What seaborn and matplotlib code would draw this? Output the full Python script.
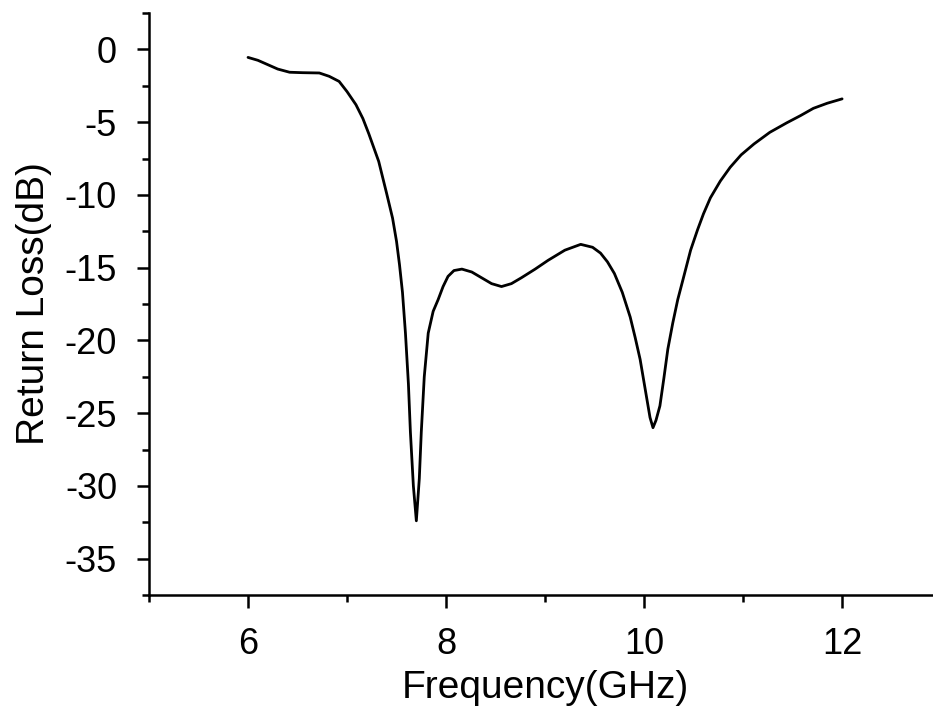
import numpy as np
import pandas as pd
import matplotlib
matplotlib.use("Agg")
import matplotlib.pyplot as plt
import seaborn as sns
from matplotlib.ticker import MultipleLocator

# Return loss curve
freq_ghz = [6.00, 6.10, 6.20, 6.30, 6.42, 6.55, 6.72, 6.82, 6.92, 7.00,
            7.09, 7.16, 7.22, 7.32, 7.40, 7.46, 7.50, 7.53, 7.56, 7.59,
            7.62, 7.64, 7.67, 7.70, 7.73, 7.75, 7.78, 7.82, 7.87, 7.92,
            7.97, 8.02, 8.08, 8.16, 8.26, 8.36, 8.46, 8.56, 8.66, 8.76,
            8.90, 9.03, 9.20, 9.36, 9.48, 9.56, 9.63, 9.70, 9.78, 9.86,
            9.91, 9.96, 10.03, 10.06, 10.09, 10.12, 10.16, 10.20, 10.24, 10.29,
            10.34, 10.39, 10.47, 10.54, 10.60, 10.67, 10.77, 10.87, 10.98, 11.11,
            11.27, 11.44, 11.58, 11.71, 11.85, 12.00]
return_loss_db = [-0.55, -0.75, -1.05, -1.35, -1.57, -1.60, -1.62, -1.85, -2.20, -2.90,
                  -3.80, -4.75, -5.80, -7.70, -9.90, -11.6, -13.2, -14.8, -16.7, -19.5,
                  -23.0, -26.3, -30.0, -32.4, -29.5, -26.3, -22.5, -19.5, -18.0, -17.2,
                  -16.3, -15.6, -15.2, -15.1, -15.3, -15.7, -16.1, -16.3, -16.1, -15.7,
                  -15.1, -14.5, -13.8, -13.4, -13.6, -14.0, -14.6, -15.4, -16.7, -18.4,
                  -19.8, -21.3, -24.1, -25.3, -26.0, -25.5, -24.5, -22.6, -20.6, -18.8,
                  -17.2, -15.9, -13.8, -12.4, -11.3, -10.2, -9.05, -8.10, -7.25, -6.50,
                  -5.70, -5.05, -4.55, -4.05, -3.70, -3.40]

df = pd.DataFrame({"Frequency": freq_ghz, "ReturnLoss": return_loss_db})

sns.set_style("ticks")
plt.rcParams['font.family'] = ['Liberation Sans', 'DejaVu Sans']
plt.rcParams['axes.unicode_minus'] = False
plt.rcParams['text.color'] = 'black'
plt.rcParams['axes.labelcolor'] = 'black'
plt.rcParams['xtick.color'] = 'black'
plt.rcParams['ytick.color'] = 'black'

fig = plt.figure(figsize=(9.33, 7.16), dpi=100)
ax = fig.add_axes([0.1597, 0.169, 0.849, 0.8128])

sns.lineplot(data=df, x="Frequency", y="ReturnLoss", ax=ax,
             color="black", linewidth=2.0, sort=False)

ax.set_xlim(5, 13)
ax.set_ylim(-37.5, 2.5)
ax.xaxis.set_major_locator(MultipleLocator(2))
ax.xaxis.set_minor_locator(MultipleLocator(1))
ax.yaxis.set_major_locator(MultipleLocator(5))
ax.yaxis.set_minor_locator(MultipleLocator(2.5))

sns.despine(ax=ax)
for s in ["left", "bottom"]:
    ax.spines[s].set_linewidth(1.8)
    ax.spines[s].set_color("black")

ax.tick_params(which="major", length=9, width=1.8, color="black",
               labelcolor="black", labelsize=26, pad=14)
ax.tick_params(which="minor", length=5, width=1.8, color="black")

ax.set_xlabel("Frequency(GHz)", fontsize=28, labelpad=6)
ax.set_ylabel("Return Loss(dB)", fontsize=28, labelpad=9)

fig.savefig("out.png", dpi=100)
